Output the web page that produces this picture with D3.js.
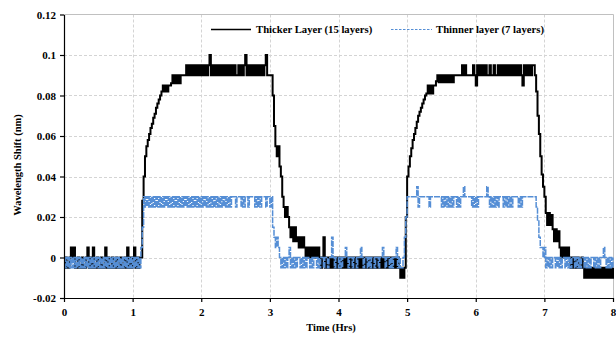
<!DOCTYPE html>
<html><head><meta charset="utf-8">
<script src="https://cdn.jsdelivr.net/npm/d3@7"></script>
<style>
body{margin:0;background:#fff}
text{font-family:"Liberation Serif","Times New Roman",serif;font-weight:bold;fill:#000}
</style>
</head><body><svg id="chart" width="616" height="337"></svg>
<script>
// ---- data (wavelength shift in nm, sampled every 0.02 h) ----
const sampleStepHrs = 0.02;
const xTicks = [0,1,2,3,4,5,6,7,8];
const yTicks = [-0.02,0,0.02,0.04,0.06,0.08,0.1,0.12];
const yTickLabels = ["-0.02","0","0.02","0.04","0.06","0.08","0.1","0.12"];
const seriesNames = ["Thicker Layer (15 layers)","Thinner layer (7 layers)"];
const xTitle = "Time (Hrs)";
const yTitle = "Wavelength Shift (nm)";

const thickerBaseline1 = [-.005,0,-.005,-.005,0,.005,0,.005,-.005,-.005,
0,-.005,-.005,0,-.005,-.005,0,.005,-.005,0,
-.005,.005,-.005,-.005,0,-.005,-.005,0,-.005,-.005,
.005,-.005,0,-.005,-.005,0,-.005,-.005,0,-.005,
-.005,0,-.005,-.005,0,-.005,.005,-.005,0,-.005,
0,.005,-.005,0,-.005,0];
const thickerRise1 = [0,.028,.04,.05,.055,.058,.061,.064,.066,.069,
.071,.074,.076,.078,.08,.082,.085,.082,.085,.082,
.085,.085,.086,.09,.086,.09,.086,.09,.086,.09,
.09,.09,.09];
const thickerPlateau1 = [.095,.09,.095,.09,.095,.09,.095,.09,.095,.09,
.095,.09,.095,.09,.095,.09,.095,.1,.09,.095,
.09,.095,.09,.095,.09,.095,.09,.095,.09,.095,
.09,.095,.09,.095,.09,.095,.09,.09,.095,.09,
.095,.09,.095,.1,.09,.095,.09,.095,.09,.095,
.09,.095,.09,.095,.09,.095,.09,.095,.1,.09,
.09,.09,.09];
const thickerFall1 = [.08,.065,.055,.05,.055,.045,.04,.03,.025,.02,
.025,.02,.015,.01,.015,.008,.015,.008,.01,.005,
.01,.005,.01,.005,0,.005,0,.005,0,.005,
0,.005,0,.005,0];
const thickerBaseline2 = [-.005,0,.01,-.005,0,-.005,0,-.005,0,-.005,
0,-.005,0,-.005,0,-.005,0,-.005,0,-.005,
0,-.005,0,-.005,0,-.005,0,-.005,0,-.005,
0,-.005,0,-.005,0,-.005,0,-.005,0,-.005,
0,-.005,0,-.005,0,-.005,0,-.005,0,-.005,
0,-.005,0,-.005,0,-.005,0,-.005,
-.01,-.005,-.01];
const thickerRise2 = [-.005,.02,.04,.045,.05,.054,.058,.061,.064,.067,
.07,.072,.074,.076,.078,.08,.081,.085,.081,.085,
.081,.085,.085,.087,.09,.0865,.09,.0865,.09,.0865,
.09,.0865,.09,.0865,.09,.0865,.09,.09,.09,.09];
const thickerPlateau2 = [.09,.09,.095,.09,.095,.09,.09,.09,.09,.09,
.095,.09,.085,.095,.09,.095,.09,.095,.09,.095,
.09,.09,.095,.09,.09,.095,.09,.09,.095,.09,
.095,.09,.095,.09,.095,.09,.095,.09,.095,.09,
.095,.09,.095,.09,.095,.09,.085,.095,.09,.095,
.09,.095,.09,.095,.095];
const thickerFall2 = [.09,.082,.07,.061,.05,.041,.035,.03,.022,.016,
.022,.016,.021,.014,.008,.014,.008,.013,.005,0,
.005,0,.005,0,.005,0,-.005,0,-.005,0,
-.005,0,-.005,-.005,0,-.005,-.01,-.005,-.01,-.005,
-.01,-.005,-.01,-.005,-.01,-.005,-.01,-.005,-.01,-.005,
-.01,-.005,-.01,-.005,-.01,-.005,-.01,-.005];

const thinnerBaseline1 = [0,-.005,0,-.005,0,-.005,0,-.005,0,-.005,
0,-.005,0,-.005,0,-.005,0,-.005,0,-.005,
0,-.005,0,-.005,0,-.005,0,-.005,0,-.005,
0,-.005,0,-.005,0,-.005,0,-.005,0,-.005,
0,-.005,0,-.005,0,-.005,0,-.005,0,-.005,
0,-.005,0,-.005,0,-.005];
const thinnerRise1 = [.005,.015,.03];
const thinnerPlateau1 = [.025,.03,.025,.03,.025,.03,.025,.03,.025,.03,
.025,.03,.025,.03,.025,.03,.025,.03,.025,.03,
.025,.03,.025,.03,.025,.03,.025,.03,.025,.03,
.025,.03,.025,.03,.025,.03,.025,.03,.025,.03,
.025,.03,.025,.03,.025,.03,.025,.03,.025,.03,
.025,.03,.025,.03,.025,.03,.025,.03,.025,.03,
.025,.03,.025,.03,
.03,.03,.025,.03,.03,.03,.025,.03,.025,.03,
.03,.025,.03,.03,.03,.03,.025,.03,.025,.03,
.025,.03,.03,.03,.025,.03,.03,.025];
const thinnerFall1 = [.03,.015,.01,.005,.01,.005,0];
const thinnerBaseline2 = [-.005,0,-.005,0,-.005,0,.005,-.005,0,-.005,
0,-.005,0,0,-.005,0,-.005,0,-.005,0,
0,-.005,0,-.005,0,0,-.005,0,-.005,
0,0,-.005,0,0,-.005,0,0,.01,0,
-.005,0,0,-.005,0,-.005,0,0,.005,0,
-.005,0,0,-.005,0,0,-.005,0,0,.005,
0,-.005,0,0,-.005,0,-.005,0,0,-.005,
0,0,-.005,0,0,.005,0,-.005,0,0,
-.005,0,-.005,0,0,.005,-.005,0,-.005,-.005,0];
const thinnerRise2 = [.01,.02];
const thinnerPlateau2 = [.03,.03,.03,.03,.03,.03,.03,.035,.025,.03,
.03,.03,.03,.03,.03,.03,.025,.03,.03,.03,
.03,.03,.03,.03,.03,.025,.03,.025,.03,.025,
.03,.025,.03,.025,.03,.03,.025,.03,.025,.03,
.03,.035,.03,.03,.03,.03,.03,.025,.03,.025,
.03,.025,.03,.03,.03,.03,.03,.03,.035,.03,
.025,.03,.025,.03,.025,.03,.025,.03,.03,.03,
.025,.03,.025,.03,.025,.03,.025,.03,.03,.03,
.03,.025,.03,.025,.03,.03,.03,.03,.03,.03,
.03,.03,.03];
const thinnerFall2 = [.03,.025,.018,.01,.005,.005,0,.005,-.005,0,
-.005,0,-.005,0,0,-.005,0,-.005,0,-.005,
0,0,-.005,0,-.005,0,-.005,0,0,-.005,
0,-.005,0,-.005,0,0,-.005,0,-.005,0,
-.005,0,0,-.005,0,-.005,0,-.005,0,0,
.005,0,-.005,0,-.005,0,-.005,0];

const thicker = [].concat(thickerBaseline1, thickerRise1, thickerPlateau1, thickerFall1,
  thickerBaseline2, thickerRise2, thickerPlateau2, thickerFall2);
const thinner = [].concat(thinnerBaseline1, thinnerRise1, thinnerPlateau1, thinnerFall1,
  thinnerBaseline2, thinnerRise2, thinnerPlateau2, thinnerFall2);
if (thicker.length !== 401 || thinner.length !== 401) throw new Error("lengths " + thicker.length + " " + thinner.length);

// ---- drawing ----
(function(){
const svg = d3.select("#chart");
svg.append("rect").attr("width",616).attr("height",337).attr("fill","#fff");
const pL = 64, pR = 613, pT = 14.5, pB = 298;
const x = d3.scaleLinear().domain([0,8]).range([pL,pR]);
const y = d3.scaleLinear().domain([-0.02,0.12]).range([pB,pT]);

const grid = svg.append("g");
grid.selectAll("line.h").data(yTicks.slice(1,-1)).join("line")
  .attr("x1",pL).attr("x2",pR).attr("y1",d=>Math.round(y(d))+0.5).attr("y2",d=>Math.round(y(d))+0.5)
  .attr("stroke","#d4d4d4").attr("stroke-width",1).attr("stroke-dasharray","3,2");
grid.selectAll("line.v").data(xTicks.slice(1,-1)).join("line")
  .attr("y1",pT).attr("y2",pB).attr("x1",d=>Math.round(x(d))+0.5).attr("x2",d=>Math.round(x(d))+0.5)
  .attr("stroke","#d4d4d4").attr("stroke-width",1).attr("stroke-dasharray","3,2");
svg.append("path").attr("d",`M${pL},${pT}H${pR+0.5}V${pB}`)
  .attr("fill","none").attr("stroke","#c0c0c0").attr("stroke-width",1);

const line = d3.line().curve(d3.curveStepAfter).x((d,i)=>x(i*sampleStepHrs)).y(d=>y(d));
svg.append("path").datum(thicker).attr("d",line)
  .attr("fill","none").attr("stroke","#000").attr("stroke-width",2);
svg.append("path").datum(thinner).attr("d",line)
  .attr("fill","none").attr("stroke","#558ED5").attr("stroke-width",1.5).attr("stroke-dasharray","6,1");

const ya = svg.append("g").attr("transform",`translate(${pL},0)`)
  .call(d3.axisLeft(y).tickValues(yTicks).tickFormat((d,i)=>yTickLabels[i]).tickSize(4).tickSizeOuter(0).tickPadding(4));
const xa = svg.append("g").attr("transform",`translate(0,${pB})`)
  .call(d3.axisBottom(x).tickValues(xTicks).tickFormat(d3.format("d")).tickSize(4).tickSizeOuter(0).tickPadding(6));
[ya,xa].forEach(g=>{
  g.selectAll("path,line").attr("stroke","#000").attr("stroke-width",1.2);
  g.selectAll("text").attr("font-size",11).attr("font-family",null).attr("fill","#000");
});

svg.append("text").attr("x",331).attr("y",331).attr("text-anchor","middle").attr("font-size",10.5).text(xTitle);
svg.append("text").attr("transform","translate(21,165) rotate(-90)").attr("text-anchor","middle").attr("font-size",10.5).text(yTitle);

const leg = svg.append("g");
leg.append("line").attr("x1",211).attr("x2",251).attr("y1",29.5).attr("y2",29.5).attr("stroke","#000").attr("stroke-width",1.5);
leg.append("text").attr("x",256).attr("y",33).attr("font-size",10.7).text(seriesNames[0]);
leg.append("line").attr("x1",391).attr("x2",432).attr("y1",29.5).attr("y2",29.5).attr("stroke","#558ED5").attr("stroke-width",1).attr("stroke-dasharray","2.5,1.5");
leg.append("text").attr("x",436).attr("y",33).attr("font-size",10.7).text(seriesNames[1]);
})();
</script>
</body></html>
